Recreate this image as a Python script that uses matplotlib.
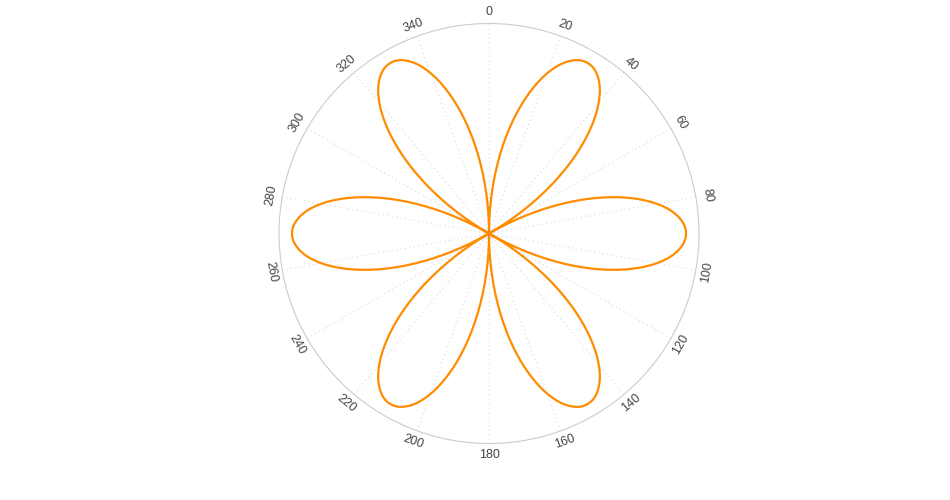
import matplotlib.pyplot as plt
import numpy as np

# rose curve, angle in degrees (clockwise from north) and radius
theta_deg = list(range(0, 361))
r_values = [
    0.0, 0.052, 0.105, 0.156, 0.208, 0.259, 0.309, 0.358, 0.407, 0.454,
    0.5, 0.545, 0.588, 0.629, 0.669, 0.707, 0.743, 0.777, 0.809, 0.839,
    0.866, 0.891, 0.914, 0.934, 0.951, 0.966, 0.978, 0.988, 0.995, 0.999,
    1.0, 0.999, 0.995, 0.988, 0.978, 0.966, 0.951, 0.934, 0.914, 0.891,
    0.866, 0.839, 0.809, 0.777, 0.743, 0.707, 0.669, 0.629, 0.588, 0.545,
    0.5, 0.454, 0.407, 0.358, 0.309, 0.259, 0.208, 0.156, 0.105, 0.052,
    0.0, 0.052, 0.105, 0.156, 0.208, 0.259, 0.309, 0.358, 0.407, 0.454,
    0.5, 0.545, 0.588, 0.629, 0.669, 0.707, 0.743, 0.777, 0.809, 0.839,
    0.866, 0.891, 0.914, 0.934, 0.951, 0.966, 0.978, 0.988, 0.995, 0.999,
    1.0, 0.999, 0.995, 0.988, 0.978, 0.966, 0.951, 0.934, 0.914, 0.891,
    0.866, 0.839, 0.809, 0.777, 0.743, 0.707, 0.669, 0.629, 0.588, 0.545,
    0.5, 0.454, 0.407, 0.358, 0.309, 0.259, 0.208, 0.156, 0.105, 0.052,
    0.0, 0.052, 0.105, 0.156, 0.208, 0.259, 0.309, 0.358, 0.407, 0.454,
    0.5, 0.545, 0.588, 0.629, 0.669, 0.707, 0.743, 0.777, 0.809, 0.839,
    0.866, 0.891, 0.914, 0.934, 0.951, 0.966, 0.978, 0.988, 0.995, 0.999,
    1.0, 0.999, 0.995, 0.988, 0.978, 0.966, 0.951, 0.934, 0.914, 0.891,
    0.866, 0.839, 0.809, 0.777, 0.743, 0.707, 0.669, 0.629, 0.588, 0.545,
    0.5, 0.454, 0.407, 0.358, 0.309, 0.259, 0.208, 0.156, 0.105, 0.052,
    0.0, 0.052, 0.105, 0.156, 0.208, 0.259, 0.309, 0.358, 0.407, 0.454,
    0.5, 0.545, 0.588, 0.629, 0.669, 0.707, 0.743, 0.777, 0.809, 0.839,
    0.866, 0.891, 0.914, 0.934, 0.951, 0.966, 0.978, 0.988, 0.995, 0.999,
    1.0, 0.999, 0.995, 0.988, 0.978, 0.966, 0.951, 0.934, 0.914, 0.891,
    0.866, 0.839, 0.809, 0.777, 0.743, 0.707, 0.669, 0.629, 0.588, 0.545,
    0.5, 0.454, 0.407, 0.358, 0.309, 0.259, 0.208, 0.156, 0.105, 0.052,
    0.0, 0.052, 0.105, 0.156, 0.208, 0.259, 0.309, 0.358, 0.407, 0.454,
    0.5, 0.545, 0.588, 0.629, 0.669, 0.707, 0.743, 0.777, 0.809, 0.839,
    0.866, 0.891, 0.914, 0.934, 0.951, 0.966, 0.978, 0.988, 0.995, 0.999,
    1.0, 0.999, 0.995, 0.988, 0.978, 0.966, 0.951, 0.934, 0.914, 0.891,
    0.866, 0.839, 0.809, 0.777, 0.743, 0.707, 0.669, 0.629, 0.588, 0.545,
    0.5, 0.454, 0.407, 0.358, 0.309, 0.259, 0.208, 0.156, 0.105, 0.052,
    0.0, 0.052, 0.105, 0.156, 0.208, 0.259, 0.309, 0.358, 0.407, 0.454,
    0.5, 0.545, 0.588, 0.629, 0.669, 0.707, 0.743, 0.777, 0.809, 0.839,
    0.866, 0.891, 0.914, 0.934, 0.951, 0.966, 0.978, 0.988, 0.995, 0.999,
    1.0, 0.999, 0.995, 0.988, 0.978, 0.966, 0.951, 0.934, 0.914, 0.891,
    0.866, 0.839, 0.809, 0.777, 0.743, 0.707, 0.669, 0.629, 0.588, 0.545,
    0.5, 0.454, 0.407, 0.358, 0.309, 0.259, 0.208, 0.156, 0.105, 0.052,
    0.0,
]
angle_ticks = list(range(0, 360, 20))
r_max = 1.066

plt.rcParams['font.family'] = ['Liberation Sans', 'DejaVu Sans']

fig = plt.figure(figsize=(9.5, 5), dpi=100)
ax = fig.add_axes([0.2937, 0.113, 0.4421, 0.84], projection='polar')
ax.set_theta_zero_location('N')
ax.set_theta_direction(-1)

ax.plot(np.radians(theta_deg), r_values, color='#ff8c00', lw=1.6)

ax.set_ylim(0, r_max)
ax.set_yticks([])
ax.set_xticks(np.radians(angle_ticks))
ax.set_xticklabels([])
ax.tick_params(axis='x', length=0)
ax.xaxis.grid(True, color='#d9d9d9', linestyle=(0, (1, 3)), lw=0.8)
ax.spines['polar'].set_color('#cccccc')
ax.spines['polar'].set_linewidth(0.8)

#tangential tick labels
for d in angle_ticks:
    if d <= 90 or d >= 270:
        rot = -d
    else:
        rot = 180 - d
    ax.text(np.radians(d), r_max * 1.055, str(d), rotation=rot, rotation_mode='anchor',
            ha='center', va='center', fontsize=9, color='#444444')

fig.savefig('out.png', dpi=100)
